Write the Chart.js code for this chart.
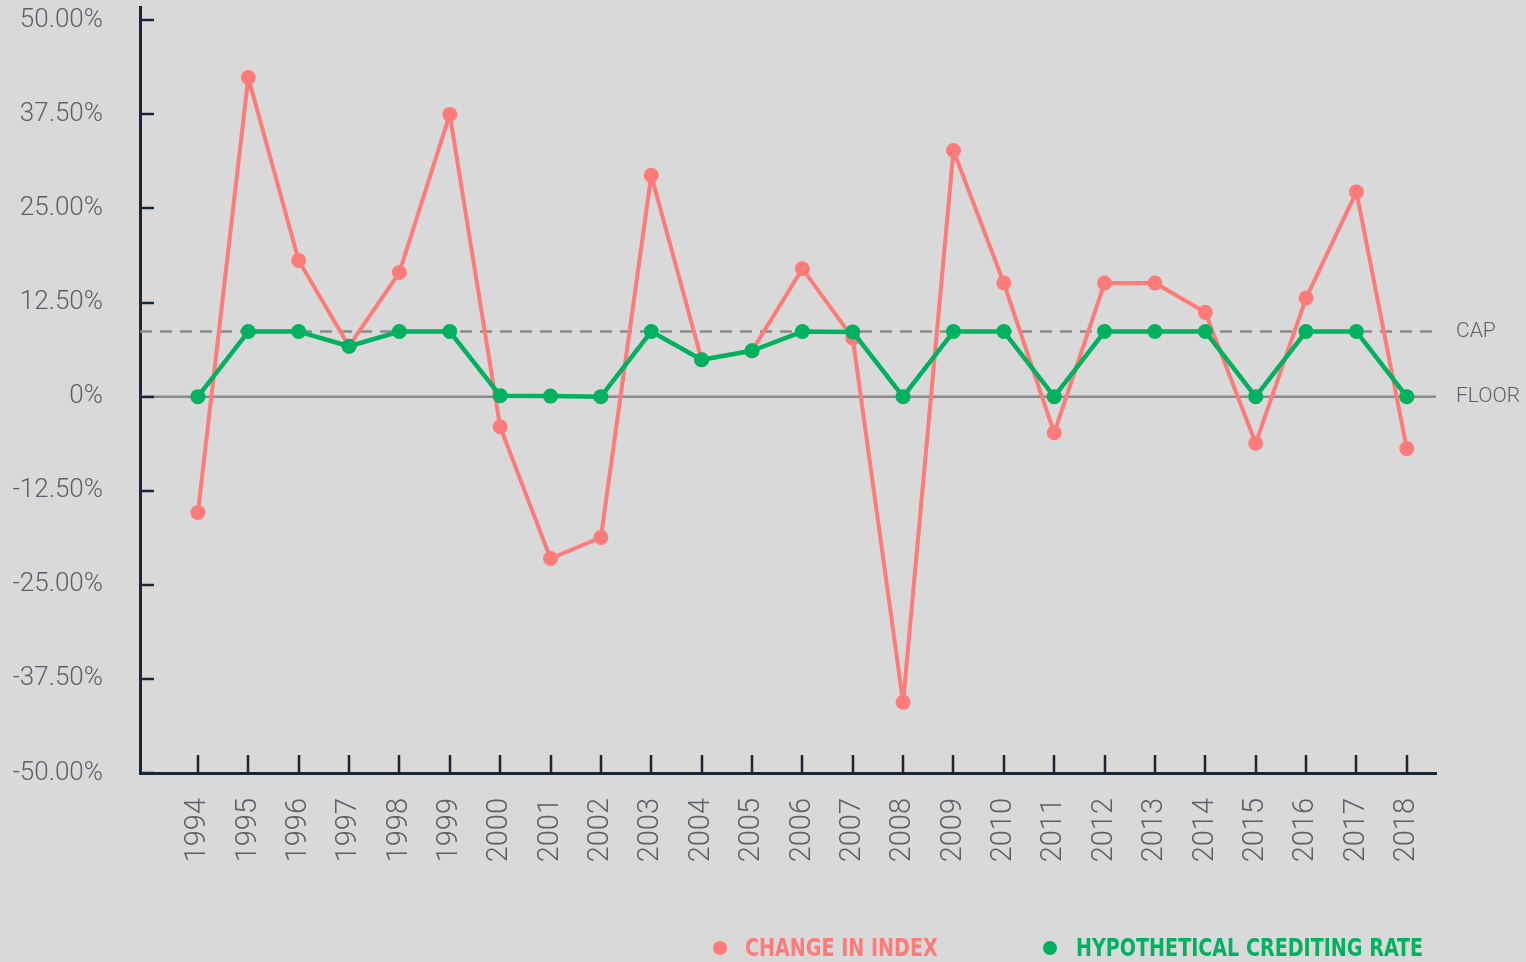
<!DOCTYPE html>
<html>
<head>
<meta charset="utf-8">
<title>Change in Index vs Hypothetical Crediting Rate</title>
<script src="https://cdn.jsdelivr.net/npm/chart.js@4.4.1/dist/chart.umd.min.js"></script>
<style>
    html, body { margin: 0; padding: 0; background: #d9d9d9; }
    #wrap { position: relative; width: 1526px; height: 962px; overflow: hidden; }
    #legend {
        position: absolute; left: 0; top: 934px; width: 1526px; height: 28px;
        font-family: "Liberation Sans Narrow", "DejaVu Sans Condensed", "Roboto", sans-serif;
        font-weight: bold; font-size: 24px; line-height: 28px;
    }
    #legend .dot { position: absolute; top: 7px; width: 14px; height: 14px; border-radius: 50%; }
    #legend .txt { position: absolute; top: 0; white-space: nowrap; transform: scaleX(0.885); transform-origin: left center; }
</style>
</head>
<body>
<div id="wrap">
    <canvas id="rate-chart"></canvas>
    <div id="legend"></div>
</div>
<script>
    "use strict";

    // Data
    const years = [1994, 1995, 1996, 1997, 1998, 1999, 2000, 2001, 2002, 2003, 2004, 2005, 2006,
                   2007, 2008, 2009, 2010, 2011, 2012, 2013, 2014, 2015, 2016, 2017, 2018];
    const indexChange = [-15.4, 42.4, 18.1, 6.7, 16.5, 37.5, -4.0, -21.5, -18.7, 29.4, 4.9, 6.1, 17.0,
                         7.8, -40.6, 32.7, 15.1, -4.8, 15.1, 15.1, 11.2, -6.2, 13.1, 27.2, -6.9];
    const creditingRate = [0, 8.65, 8.65, 6.7, 8.65, 8.65, 0.13, 0.07, 0, 8.65, 4.9, 6.1, 8.65,
                           8.6, 0, 8.65, 8.65, 0, 8.65, 8.65, 8.65, 0, 8.65, 8.65, 0];
    const yTicks = [-50, -37.5, -25, -12.5, 0, 12.5, 25, 37.5, 50];
    const capRate = 8.65;
    const floorRate = 0;

    const seriesNames = ['CHANGE IN INDEX', 'HYPOTHETICAL CREDITING RATE'];
    const seriesColors = ['#ff7b79', '#00b160'];

    const axisColor = '#1b2735';
    const textColor = '#5a6067';

    Chart.defaults.font.family = 'Roboto';
    Chart.defaults.font.weight = 300;
    Chart.defaults.color = textColor;

    function toPoints(values) {
        return years.map((yr, i) => ({ x: yr, y: values[i] }));
    }

    // Cap / floor lines, inward tick marks and side labels
    const refLines = {
        id: 'refLines',
        beforeDatasetsDraw(chart) {
            const { ctx, chartArea, scales: { y } } = chart;
            ctx.save();
            ctx.strokeStyle = '#8a8a8a';
            ctx.lineWidth = 2.5;

            const yCap = y.getPixelForValue(capRate);
            ctx.setLineDash([12, 8]);
            ctx.beginPath();
            ctx.moveTo(chartArea.left, yCap);
            ctx.lineTo(chartArea.right, yCap);
            ctx.stroke();

            const yFloor = y.getPixelForValue(floorRate);
            ctx.setLineDash([]);
            ctx.beginPath();
            ctx.moveTo(chartArea.left, yFloor);
            ctx.lineTo(chartArea.right, yFloor);
            ctx.stroke();

            ctx.fillStyle = textColor;
            ctx.font = '300 21px Roboto';
            ctx.textBaseline = 'middle';
            ctx.textAlign = 'left';
            ctx.fillText('CAP', chartArea.right + 20, yCap);
            ctx.fillText('FLOOR', chartArea.right + 20, yFloor);
            ctx.restore();
        },
        afterDraw(chart) {
            const { ctx, chartArea, scales: { x, y } } = chart;
            ctx.save();
            ctx.strokeStyle = axisColor;
            ctx.lineWidth = 2.5;
            ctx.beginPath();
            y.ticks.forEach(t => {
                const py = Math.round(y.getPixelForValue(t.value));
                ctx.moveTo(chartArea.left, py);
                ctx.lineTo(chartArea.left + 14, py);
            });
            x.ticks.forEach(t => {
                const px = Math.round(x.getPixelForValue(t.value));
                ctx.moveTo(px, chartArea.bottom);
                ctx.lineTo(px, chartArea.bottom - 18);
            });
            ctx.stroke();
            ctx.restore();
        }
    };

    function initChart() {
        const canvas = document.getElementById('rate-chart');
        new Chart(canvas, {
            type: 'line',
            data: {
                datasets: [{
                    label: seriesNames[0],
                    data: toPoints(indexChange),
                    borderColor: seriesColors[0],
                    backgroundColor: seriesColors[0],
                    borderWidth: 4,
                    borderJoinStyle: 'round',
                    pointRadius: 7.5,
                    pointBorderWidth: 0,
                    tension: 0,
                    order: 1
                }, {
                    label: seriesNames[1],
                    data: toPoints(creditingRate),
                    borderColor: seriesColors[1],
                    backgroundColor: seriesColors[1],
                    borderWidth: 4.5,
                    borderJoinStyle: 'round',
                    pointRadius: 7.5,
                    pointBorderWidth: 0,
                    tension: 0,
                    order: 0
                }]
            },
            options: {
                responsive: true,
                maintainAspectRatio: false,
                animation: false,
                layout: { padding: { top: 7, right: 90, left: 0, bottom: 0 } },
                plugins: {
                    legend: { display: false },
                    tooltip: { enabled: false }
                },
                scales: {
                    x: {
                        type: 'linear',
                        min: 1992.85,
                        max: 2018.58,
                        afterBuildTicks: scale => { scale.ticks = years.map(v => ({ value: v })); },
                        afterFit: scale => {
                            scale.height = 189;
                            scale.paddingLeft = 0;
                            scale.paddingRight = 0;
                            scale.paddingTop = 0;
                            scale.paddingBottom = 0;
                        },
                        grid: { display: false, drawTicks: false },
                        border: { color: axisColor, width: 3 },
                        ticks: {
                            autoSkip: false,
                            minRotation: 90,
                            maxRotation: 90,
                            padding: 25,
                            font: { size: 29, weight: 300 },
                            callback: value => String(value)
                        }
                    },
                    y: {
                        min: -50,
                        max: 51.7,
                        afterBuildTicks: scale => { scale.ticks = yTicks.map(v => ({ value: v })); },
                        afterFit: scale => {
                            scale.width = 140;
                            scale.paddingTop = 0;
                            scale.paddingBottom = 0;
                        },
                        grid: { display: false, drawTicks: false },
                        border: { color: axisColor, width: 3 },
                        ticks: {
                            padding: 37,
                            font: { size: 26, weight: 300 },
                            callback: value => value === 0 ? '0%' : value.toFixed(2) + '%'
                        }
                    }
                }
            },
            plugins: [refLines]
        });
    }

    // Legend in HTML so the two entries sit where the reference has them
    function buildLegend() {
        const legend = document.getElementById('legend');
        const spots = [{ dot: 713, text: 745 }, { dot: 1043, text: 1076 }];
        seriesNames.forEach((name, i) => {
            const dot = document.createElement('span');
            dot.className = 'dot';
            dot.style.left = spots[i].dot + 'px';
            dot.style.background = seriesColors[i];
            const txt = document.createElement('span');
            txt.className = 'txt';
            txt.style.left = spots[i].text + 'px';
            txt.style.color = seriesColors[i];
            txt.textContent = name;
            legend.appendChild(dot);
            legend.appendChild(txt);
        });
    }

    buildLegend();
    initChart();
</script>
</body>
</html>
